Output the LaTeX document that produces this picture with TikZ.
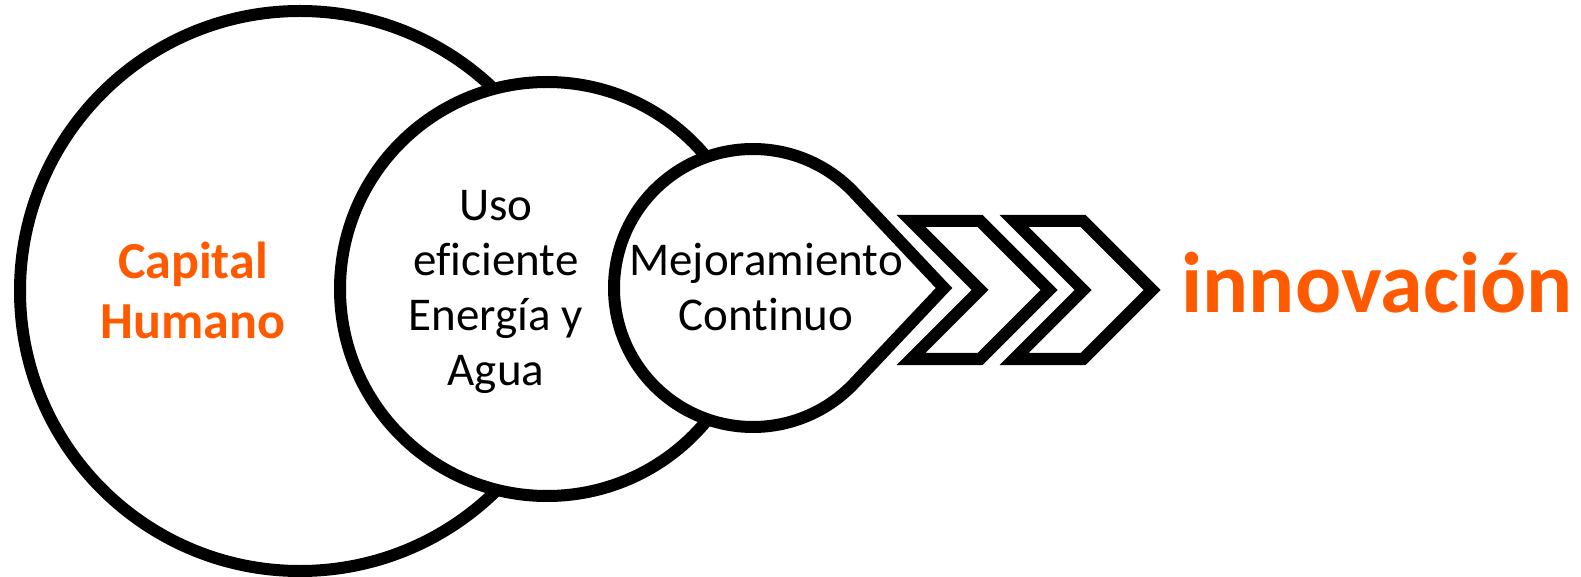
\documentclass[tikz,border=0pt]{standalone}
\usepackage{fontspec}
\setmainfont{Carlito}[Ligatures=NoCommon]
\usepackage{tikz}
\usetikzlibrary{calc}
\definecolor{humano}{HTML}{FF5A00}
\tikzset{
  ring/.style={circle,draw,line width=12pt,fill=white,minimum size=#1,inner sep=0pt},
  thick line/.style={line width=12pt,line join=miter,fill=white},
  orange label/.style={text=humano,font=\bfseries\fontsize{52}{60}\selectfont,align=center},
  black label/.style={font=\fontsize{47}{55}\selectfont,align=center}
}

\begin{document}
\begin{tikzpicture}[x=1pt,y=1pt]
    \useasboundingbox (0,0) rectangle (1581,576);

    \node [ring=560pt] (capital) at (300,285) {};
    \node [ring=414pt] (uso) at (547,287) {};

    \coordinate (tearc) at (753,288);
    \coordinate (tip) at (944,288);
    \draw [thick line] (tip) -- ($(tearc)+(43.3:139)$)
      arc [start angle=43.3, end angle=316.7, radius=139] -- cycle;

    \foreach \dx in {0,103}
      \draw [thick line] (911+\dx,355) -- (980+\dx,355) -- (1049+\dx,286)
        -- (980+\dx,217) -- (911+\dx,217) -- (980+\dx,286) -- cycle;

    \node [orange label] (capitaltext) at (193,286) {Capital\\Humano};
    \node [black label] (usotext) at (496,284) {Uso\\eficiente\\Energía y\\Agua};
    \node [black label] (mejoratext) at (766,289) {Mejoramiento\\Continuo};
    \node [text=humano, font=\bfseries\fontsize{86}{100}\selectfont, anchor=base] (innova) at (1377,263) {innovación};
  \end{tikzpicture}
\end{document}
